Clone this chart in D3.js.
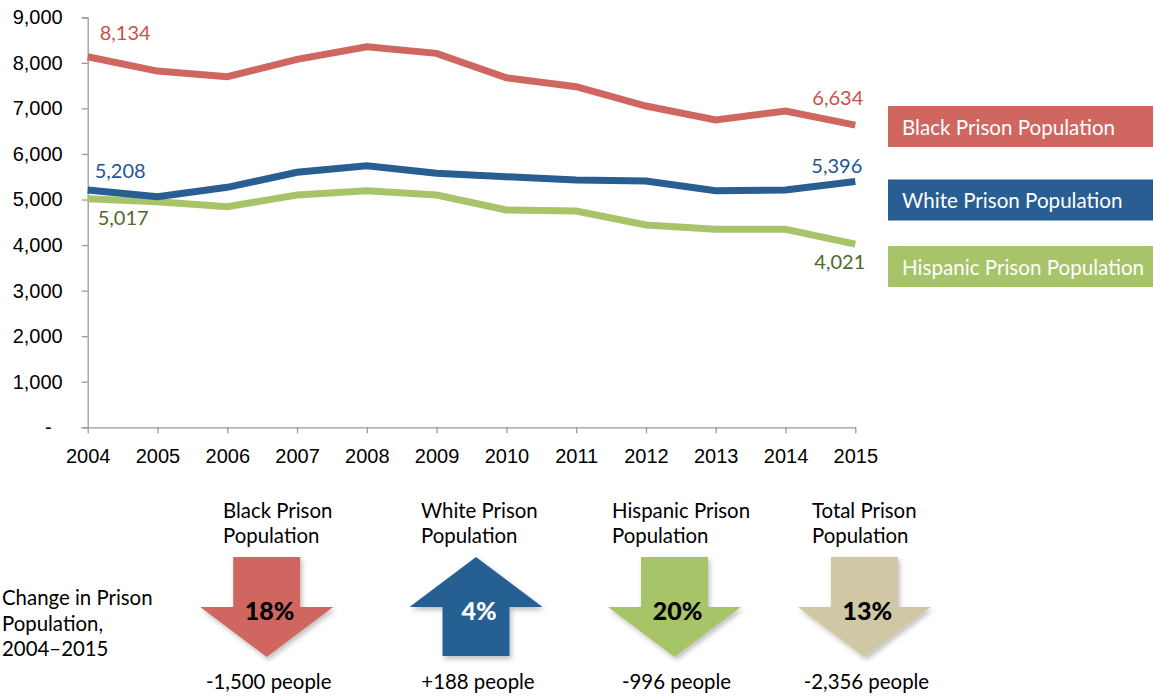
<!DOCTYPE html>
<html>
<head>
<meta charset="utf-8">
<script src="https://cdn.jsdelivr.net/npm/d3@7"></script>
<style>
  html, body { margin: 0; padding: 0; background: #fff; }
  svg { display: block; font-family: Lato, "Open Sans", sans-serif; }
</style>
</head>
<body>
<svg id="chart" width="1154" height="698"></svg>
<script>
// ---- data ----
const years = [2004, 2005, 2006, 2007, 2008, 2009, 2010, 2011, 2012, 2013, 2014, 2015];
const blackPop    = [8134, 7820, 7695, 8077, 8354, 8209, 7674, 7476, 7052, 6745, 6943, 6634];
const whitePop    = [5208, 5062, 5268, 5597, 5742, 5575, 5500, 5428, 5406, 5193, 5208, 5396];
const hispanicPop = [5017, 4952, 4842, 5099, 5193, 5099, 4770, 4748, 4440, 4348, 4348, 4021];
const seriesNames = ["Black Prison Population", "White Prison Population", "Hispanic Prison Population"];
const yTicks = [0, 1000, 2000, 3000, 4000, 5000, 6000, 7000, 8000, 9000];

const changeTitles = [["Black Prison", "Population"], ["White Prison", "Population"], ["Hispanic Prison", "Population"], ["Total Prison", "Population"]];
const changePct = ["18%", "4%", "20%", "13%"];
const changeDir = ["down", "up", "down", "down"];
const changePeople = ["-1,500 people", "+188 people", "-996 people", "-2,356 people"];
const changeLabel = ["Change in Prison", "Population,", "2004\u20132015"];

// ---- styles ----
const lineColors  = ["#CF6660", "#285E92", "#A7C469"];
const labelColors = ["#C9514C", "#1F568F", "#51692B"];
const arrowColors = ["#CF6660", "#285E92", "#A7C469", "#D0C7A4"];
const pctColors   = ["#000", "#fff", "#000", "#000"];

const svg = d3.select("#chart");

// shadow filter
const defs = svg.append("defs");
const f = defs.append("filter").attr("id", "shadow").attr("x", "-20%").attr("y", "-20%").attr("width", "150%").attr("height", "150%");
f.append("feDropShadow").attr("dx", 2).attr("dy", 3).attr("stdDeviation", 2.5).attr("flood-color", "#000").attr("flood-opacity", 0.25);

const x = d3.scalePoint().domain(years).range([87.7, 855.3]);
const y = d3.scaleLinear().domain([0, 9000]).range([427.3, 17.3]);

// axes
const yAxis = d3.axisLeft(y).tickValues(yTicks).tickSize(6).tickPadding(19)
  .tickFormat(d => d === 0 ? "-" : d3.format(",")(d));
const gy = svg.append("g").attr("transform", `translate(${x(years[0])},0)`).call(yAxis);
gy.selectAll("text").style("font-size", "20px").attr("fill", "#000");
gy.selectAll("text").filter(d => d === 0).attr("dx", -11);
gy.select(".domain").attr("stroke", "#9a9a9a").attr("stroke-width", 1.3);
gy.selectAll(".tick line").attr("stroke", "#9a9a9a").attr("stroke-width", 1.3);

const xAxis = d3.axisBottom(x).tickSize(6).tickPadding(16).tickSizeOuter(0);
const gx = svg.append("g").attr("transform", `translate(0,${y(0)})`).call(xAxis);
gx.selectAll("text").style("font-size", "20px").attr("fill", "#000");
gx.select(".domain").attr("stroke", "#9a9a9a").attr("stroke-width", 1.3);
gx.selectAll(".tick line").attr("stroke", "#9a9a9a").attr("stroke-width", 1.3);

// lines
const allSeries = [blackPop, whitePop, hispanicPop];
const line = d3.line().x((d, i) => x(years[i])).y(d => y(d));
[2, 1, 0].forEach(si => {
  svg.append("path").datum(allSeries[si]).attr("d", line)
    .attr("fill", "none").attr("stroke", lineColors[si]).attr("stroke-width", 7)
    .attr("stroke-linejoin", "miter").attr("stroke-linecap", "butt");
});

// data labels (first and last)
const fmt = d3.format(",");
const startOff = [[12, -17], [7, -12], [10, 26]];
const endOff = [[8, -20], [7, -8], [10, 25]];
allSeries.forEach((s, si) => {
  svg.append("text").attr("x", x(years[0]) + startOff[si][0]).attr("y", y(s[0]) + startOff[si][1])
    .attr("fill", labelColors[si]).style("font-size", "20px").text(fmt(s[0]));
  const li = s.length - 1;
  svg.append("text").attr("x", x(years[li]) + endOff[si][0]).attr("y", y(s[li]) + endOff[si][1])
    .attr("text-anchor", "end")
    .attr("fill", labelColors[si]).style("font-size", "20px").text(fmt(s[li]));
});

// legend boxes
const legendTop = [106, 179.5, 246];
seriesNames.forEach((n, i) => {
  svg.append("rect").attr("x", 888).attr("y", legendTop[i]).attr("width", 265).attr("height", 41)
    .attr("fill", lineColors[i]);
  svg.append("text").attr("x", 902).attr("y", legendTop[i] + 28.5).attr("fill", "#fff")
    .style("font-size", "20.6px").text(n);
});

// bottom: change label
svg.append("g").selectAll("text").data(changeLabel).join("text")
  .attr("x", 2).attr("y", (d, i) => 605 + i * 25.5).style("font-size", "20.4px").attr("fill", "#000").text(d => d);

// arrows
const arrowCx = [266.7, 476, 674.5, 864.4];
const titleX = [223, 421, 612, 812];
const arrowTop = 557, headW = 133, shaftW = 67, totalH = 100, headH = 50;
function arrowPath(cx, dir) {
  const hw = headW / 2, sw = shaftW / 2;
  if (dir === "down") {
    const t = arrowTop, hb = arrowTop + (totalH - headH), tip = arrowTop + totalH;
    return `M${cx - sw},${t}L${cx + sw},${t}L${cx + sw},${hb}L${cx + hw},${hb}L${cx},${tip}L${cx - hw},${hb}L${cx - sw},${hb}Z`;
  } else {
    const tip = arrowTop, hb = arrowTop + headH, b = arrowTop + totalH - 1;
    return `M${cx},${tip}L${cx + hw},${hb}L${cx + sw},${hb}L${cx + sw},${b}L${cx - sw},${b}L${cx - sw},${hb}L${cx - hw},${hb}Z`;
  }
}
changePct.forEach((p, i) => {
  const g = svg.append("g");
  g.selectAll("text.title").data(changeTitles[i]).join("text").attr("class", "title")
    .attr("x", titleX[i]).attr("y", (d, j) => 518 + j * 25).style("font-size", "20.4px").attr("fill", "#000").text(d => d);
  g.append("path").attr("d", arrowPath(arrowCx[i], changeDir[i])).attr("fill", arrowColors[i]).attr("filter", "url(#shadow)");
  g.append("text").attr("x", arrowCx[i] + 3).attr("y", 620).attr("text-anchor", "middle")
    .style("font-size", "25px").style("font-weight", "900").attr("fill", pctColors[i]).text(p);
  g.append("text").attr("x", arrowCx[i] + 2).attr("y", 689).attr("text-anchor", "middle")
    .style("font-size", "20.4px").attr("fill", "#000").text(changePeople[i]);
});
</script>
</body>
</html>
